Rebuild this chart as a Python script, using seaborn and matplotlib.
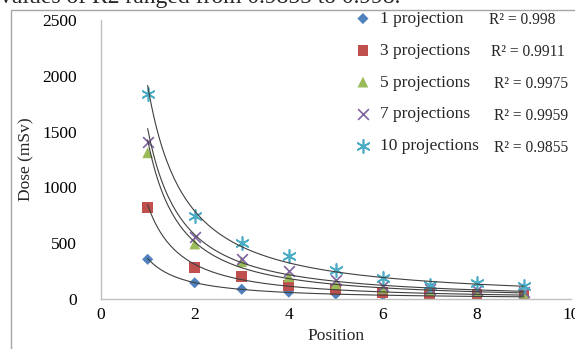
import numpy as np
import pandas as pd
import matplotlib.pyplot as plt
import seaborn as sns
from matplotlib.patches import Rectangle

positions = [1, 2, 3, 4, 5, 6, 7, 8, 9]
series_names = ["1 projection", "3 projections", "5 projections", "7 projections", "10 projections"]
dose_1 = [356, 146, 88, 62, 45, 35, 28, 24, 20]
dose_3 = [818, 284, 200, 125, 88, 60, 50, 40, 36]
dose_5 = [1310, 493, 335, 200, 134, 96, 76, 66, 52]
dose_7 = [1410, 558, 358, 255, 170, 116, 92, 81, 66]
dose_10 = [1840, 744, 499, 385, 260, 185, 125, 140, 119]
r2_labels = ["R² = 0.998", "R² = 0.9911", "R² = 0.9975", "R² = 0.9959", "R² = 0.9855"]

colors = ["#4F81BD", "#C0504D", "#9BBB59", "#8064A2", "#4BACC6"]
markers = ["D", "s", "^", "x", (6, 2, 0)]
sizes = [32, 60, 60, 60, 90]

all_doses = [dose_1, dose_3, dose_5, dose_7, dose_10]
df = pd.DataFrame({
    "Position": positions * len(series_names),
    "Dose": np.concatenate(all_doses),
    "series": np.repeat(series_names, len(positions)),
})

sns.set_theme(style="white")
plt.rcParams["font.family"] = ["Liberation Serif", "DejaVu Serif"]

fig = plt.figure(figsize=(5.75, 3.49), dpi=100)
ax = fig.add_axes([0.175, 0.143, 0.818, 0.800])

# power trend lines (Excel style), fitted on log-log
xs = np.linspace(1, 9, 200)
for d in all_doses:
    b, a = np.polyfit(np.log(positions), np.log(d), 1)
    ax.plot(xs, np.exp(a) * xs ** b, color="#404040", lw=0.8, zorder=3)

for name, c, m, s in zip(series_names, colors, markers, sizes):
    sub = df[df["series"] == name]
    lw = 1.2 if m in ("x", (6, 2, 0)) else 0
    sns.scatterplot(x=sub["Position"], y=sub["Dose"], color=c, marker=m, s=s,
                    linewidth=lw, edgecolor=c if lw else "none", label=name,
                    zorder=2, ax=ax, legend=False)

ax.set_xlim(0, 10)
ax.set_ylim(0, 2500)
ax.set_xticks([0, 2, 4, 6, 8, 10])
ax.set_yticks([0, 500, 1000, 1500, 2000, 2500])
ax.tick_params(axis="both", length=0, labelsize=12.5, colors="#000000")
ax.tick_params(axis="y", pad=17)
ax.tick_params(axis="x", pad=6)
for sp in ["top", "right"]:
    ax.spines[sp].set_visible(False)
for sp in ["left", "bottom"]:
    ax.spines[sp].set_color("#BFBFBF")
    ax.spines[sp].set_linewidth(1)
ax.set_xlabel("Position", fontsize=12.5, labelpad=3)
ax.set_ylabel("Dose (mSv)", fontsize=12.5, labelpad=6)

handles = ax.collections[:len(series_names)]
leg = ax.legend(handles, series_names, loc="upper left", bbox_to_anchor=(0.530, 1.032),
                frameon=False, fontsize=12.5, labelspacing=0.9, handletextpad=0.25,
                handlelength=1.5, borderpad=0, borderaxespad=0)

for i, t in enumerate(r2_labels):
    ax.text(0.826 + 0.005 * min(i, 2), 1.0 - i * 0.1147, t, transform=ax.transAxes,
            fontsize=11.2, va="center", ha="left")

# chart border and cropped caption line
fig.patches.append(Rectangle((11 / 575, -0.2), 1.2, 1.2 - 10 / 349,
                             transform=fig.transFigure, fill=False,
                             edgecolor="#A6A6A6", lw=1))
fig.text(0.0, 1 - 2.5 / 349, "values of R2 ranged from 0.9855 to 0.998.",
         fontsize=17, va="baseline", ha="left")

fig.savefig("out.png", dpi=100)
